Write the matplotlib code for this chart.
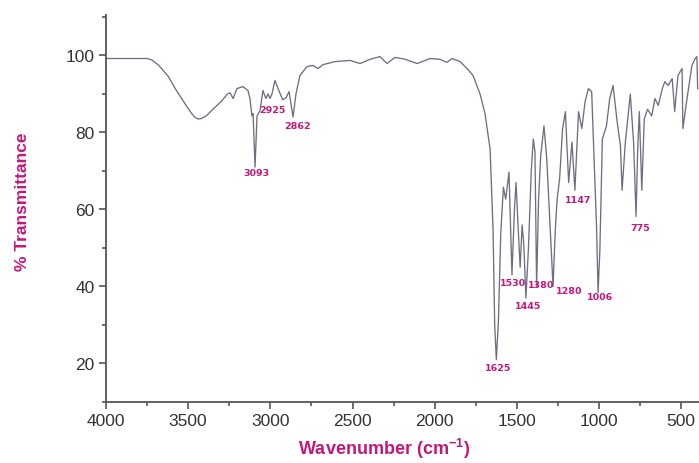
import numpy as np
import matplotlib
matplotlib.use("Agg")
import matplotlib.pyplot as plt
from matplotlib.ticker import MultipleLocator

plt.rcParams['font.family'] = ['Liberation Sans', 'DejaVu Sans']
plt.rcParams['mathtext.fontset'] = 'custom'
plt.rcParams['mathtext.rm'] = 'Liberation Sans'
plt.rcParams['mathtext.bf'] = 'Liberation Sans:bold'

# FTIR spectrum: wavenumber (cm-1) and % transmittance
wavenumber = [4000, 3750, 3720, 3680, 3620, 3580, 3520, 3480, 3460, 3440,
              3420, 3390, 3350, 3300, 3260, 3245, 3227, 3203, 3167, 3136,
              3124, 3112, 3105, 3093, 3081, 3063, 3045, 3027, 3014, 3002,
              2990, 2972, 2953, 2925, 2905, 2886, 2862, 2844, 2820, 2777,
              2740, 2710, 2680, 2607, 2515, 2454, 2393, 2333, 2290, 2241,
              2180, 2107, 2028, 1968, 1925, 1895, 1846, 1803, 1767, 1724,
              1694, 1663, 1645, 1635, 1625, 1612, 1598, 1582, 1568, 1548,
              1530, 1515, 1505, 1492, 1480, 1468, 1458, 1445, 1430, 1412,
              1400, 1390, 1380, 1368, 1355, 1335, 1318, 1280, 1266, 1255,
              1240, 1222, 1205, 1185, 1165, 1147, 1125, 1105, 1085, 1065,
              1045, 1030, 1015, 1006, 995, 980, 955, 935, 915, 890,
              870, 860, 840, 810, 790, 775, 765, 755, 740, 725,
              705, 680, 660, 640, 615, 600, 580, 555, 540, 520,
              495, 490, 465, 435, 415, 405, 400]
transmittance = [99.2, 99.2, 98.8, 97.5, 94.5, 91.5, 87.5, 85.0, 84.0, 83.5,
                 83.6, 84.3, 86.0, 88.0, 90.0, 90.3, 88.8, 91.4, 91.9, 90.9,
                 88.8, 84.3, 84.9, 71.0, 84.3, 85.6, 90.9, 88.8, 90.0, 88.8,
                 90.0, 93.5, 91.4, 88.5, 89.0, 90.6, 84.0, 90.0, 94.8, 97.1,
                 97.4, 96.6, 97.6, 98.4, 98.7, 97.9, 99.0, 99.7, 97.9, 99.5,
                 99.0, 97.9, 99.2, 99.0, 98.2, 99.2, 98.4, 96.6, 94.8, 90.0,
                 84.9, 75.7, 54.8, 30.0, 21.0, 31.5, 54.0, 65.8, 62.7, 69.7,
                 43.0, 60.0, 67.0, 55.0, 45.0, 56.0, 51.0, 37.0, 49.6, 70.5,
                 78.3, 75.0, 40.0, 62.7, 74.0, 81.7, 73.0, 40.0, 55.0, 62.7,
                 68.0, 81.0, 85.4, 67.0, 77.5, 65.0, 85.4, 81.0, 88.0, 91.4,
                 90.6, 73.0, 55.0, 38.4, 49.6, 78.3, 81.7, 88.8, 92.2, 82.8,
                 76.5, 65.0, 77.5, 90.0, 77.5, 58.2, 75.7, 85.4, 65.0, 83.5,
                 86.0, 84.3, 88.8, 87.0, 91.4, 93.2, 92.2, 94.0, 85.4, 94.8,
                 96.6, 81.0, 88.8, 97.4, 99.2, 99.7, 91.4]

# peak labels: text, wavenumber and transmittance of the text centre
peak_text = ['3093', '2925', '2862', '1625', '1530', '1380', '1280',
             '1445', '1147', '1006', '775']
peak_x = [3082, 2990, 2832, 1615, 1525, 1352, 1180, 1432, 1128, 992, 750]
peak_y = [69.7, 85.9, 81.7, 19.0, 41.0, 40.6, 39.0, 35.0, 62.7, 37.3, 55.4]

label_color = '#c2187c'
axis_color = '#555555'

fig = plt.figure(figsize=(6.99, 4.64), dpi=100)
ax = fig.add_axes([0.1516, 0.1315, 0.8484, 0.834])

ax.plot(wavenumber, transmittance, color='#6e6e84', linewidth=0.95)

for t, px, py in zip(peak_text, peak_x, peak_y):
    ax.text(px, py, t, color=label_color, fontsize=6.8, fontweight='bold',
            family='DejaVu Sans', ha='center', va='center')

ax.set_xlim(4000, 392)
ax.set_ylim(10, 110.5)
ax.xaxis.set_major_locator(MultipleLocator(500))
ax.xaxis.set_minor_locator(MultipleLocator(250))
ax.yaxis.set_minor_locator(MultipleLocator(10))
ax.set_yticks([20, 40, 60, 80, 100])

for side in ['top', 'right']:
    ax.spines[side].set_visible(False)
for side in ['left', 'bottom']:
    ax.spines[side].set_color(axis_color)
    ax.spines[side].set_linewidth(1.3)

ax.tick_params(which='major', direction='out', length=5, width=1.2,
               color=axis_color, labelsize=12.5, labelcolor='#333333', pad=3)
ax.tick_params(which='minor', direction='out', length=3, width=1.2,
               color=axis_color)

fig.text(0.032, 0.565, '% Transmittance', rotation=90, color=label_color,
         fontsize=12.5, fontweight='bold', ha='center', va='center')
fig.text(0.549, 0.006, r'Wavenumber (cm$^{\mathbf{-1}}$)', color=label_color,
         fontsize=13, fontweight='bold', ha='center', va='bottom')

fig.savefig('out.png', dpi=100)
